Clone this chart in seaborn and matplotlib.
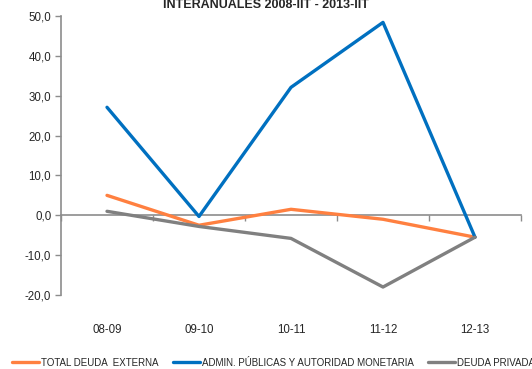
import matplotlib
matplotlib.use("Agg")
import matplotlib.pyplot as plt
from matplotlib.ticker import FuncFormatter
import numpy as np
import pandas as pd
import seaborn as sns

# datos (tasas interanuales, %)
periodos = ['08-09', '09-10', '10-11', '11-12', '12-13']
total_deuda = [5.0, -2.5, 1.5, -1.0, -5.5]
admin_publicas = [27.1, -0.3, 32.1, 48.4, -5.5]
deuda_privada = [1.0, -2.8, -5.8, -18.0, -5.5]

series = {
    'TOTAL DEUDA  EXTERNA': total_deuda,
    'ADMIN. PÚBLICAS Y AUTORIDAD MONETARIA': admin_publicas,
    'DEUDA PRIVADA': deuda_privada,
}
colores = ['#FF8040', '#0070C0', '#808080']

filas = []
for nombre, valores in series.items():
    for i, v in enumerate(valores):
        filas.append({'periodo': i, 'serie': nombre, 'valor': v})
df = pd.DataFrame(filas)

sns.set_style('white')
plt.rcParams['font.family'] = ['Liberation Sans Narrow', 'Liberation Sans', 'DejaVu Sans']

fig = plt.figure(figsize=(5.32, 3.69), dpi=100)
ax = fig.add_axes([61/532, 1 - 295/369, 460/532, 279/369])

sns.lineplot(data=df, x='periodo', y='valor', hue='serie', palette=colores,
             linewidth=2.4, ax=ax, legend=True, sort=False)

ax.set_xlim(-0.5, 4.5)
ax.set_ylim(-20, 50)
ax.set_yticks(np.arange(-20, 51, 10))
ax.yaxis.set_major_formatter(FuncFormatter(lambda v, p: f'{v:.1f}'.replace('.', ',')))
ax.set_xticks(range(len(periodos)))
ax.set_xticklabels(periodos)
ax.set_xlabel('')
ax.set_ylabel('')

for s in ['top', 'right', 'bottom']:
    ax.spines[s].set_visible(False)
ax.spines['left'].set_color('#8c8c8c')
ax.spines['left'].set_linewidth(1.2)
ax.tick_params(axis='y', direction='out', length=4, width=1, color='#8c8c8c',
               labelsize=8.3, pad=3, left=True)
ax.tick_params(axis='x', length=0, labelsize=8.3, pad=21)

# eje horizontal en el cero
sec = ax.secondary_xaxis(20 / 70)
sec.spines['bottom'].set_color('#8c8c8c')
sec.spines['bottom'].set_linewidth(1.2)
sec.set_xticks(np.arange(-0.5, 4.6, 1.0))
sec.set_xticklabels([])
sec.tick_params(axis='x', direction='out', length=4, width=1, color='#8c8c8c')

# título (recortado en la parte superior, como en el original)
fig.text(0.5, 1.04, 'TASAS DE VARIACIÓN\nINTERANUALES 2008-IIT - 2013-IIT',
         ha='center', va='top', fontsize=9, fontweight='bold', linespacing=1.2)

ax.get_legend().remove()
handles, labels = ax.get_legend_handles_labels()
fig.legend(handles, labels, loc='lower left', bbox_to_anchor=(0.012, -0.012),
           ncol=3, frameon=False, fontsize=7.0, handlelength=2.8,
           handletextpad=0.15, columnspacing=1.5, borderaxespad=0.2)

fig.savefig('out.png', dpi=100)
